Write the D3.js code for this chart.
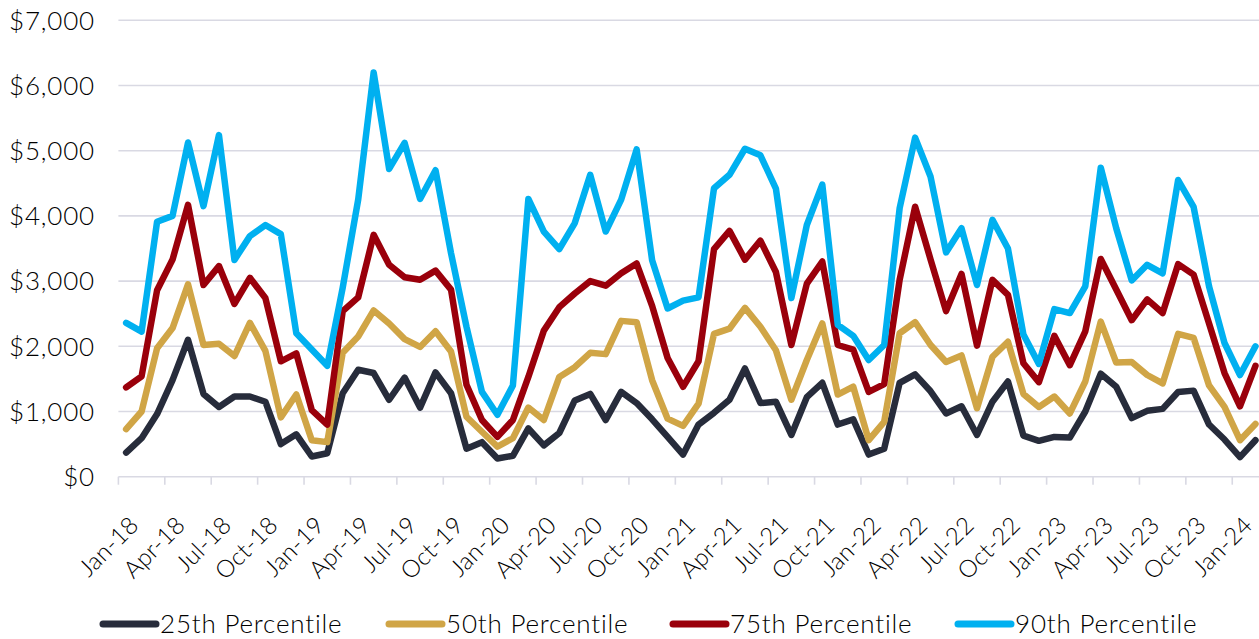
<!DOCTYPE html>
<html>
<head>
<meta charset="utf-8">
<script src="https://cdn.jsdelivr.net/npm/d3@7"></script>
<style>
  html, body { margin: 0; padding: 0; background: #fff; }
  svg { display: block; }
  text { font-family: Lato, "Open Sans", sans-serif; font-weight: 300; fill: #000; }
</style>
</head>
<body>
<svg id="chart" width="1259" height="639"></svg>
<script>
const categories = [
  "Jan-18","Feb-18","Mar-18","Apr-18","May-18","Jun-18","Jul-18","Aug-18","Sep-18","Oct-18","Nov-18","Dec-18",
  "Jan-19","Feb-19","Mar-19","Apr-19","May-19","Jun-19","Jul-19","Aug-19","Sep-19","Oct-19","Nov-19","Dec-19",
  "Jan-20","Feb-20","Mar-20","Apr-20","May-20","Jun-20","Jul-20","Aug-20","Sep-20","Oct-20","Nov-20","Dec-20",
  "Jan-21","Feb-21","Mar-21","Apr-21","May-21","Jun-21","Jul-21","Aug-21","Sep-21","Oct-21","Nov-21","Dec-21",
  "Jan-22","Feb-22","Mar-22","Apr-22","May-22","Jun-22","Jul-22","Aug-22","Sep-22","Oct-22","Nov-22","Dec-22",
  "Jan-23","Feb-23","Mar-23","Apr-23","May-23","Jun-23","Jul-23","Aug-23","Sep-23","Oct-23","Nov-23","Dec-23",
  "Jan-24","Feb-24"
];

const p25 = [370,590,960,1480,2100,1270,1070,1230,1230,1150,500,650,
  310,360,1280,1640,1590,1180,1520,1060,1600,1280,430,530,
  280,320,740,480,670,1170,1270,870,1300,1130,880,610,
  340,800,980,1180,1660,1130,1150,640,1220,1440,800,880,
  340,430,1440,1570,1310,970,1080,640,1150,1460,630,550,
  610,600,1000,1580,1380,900,1010,1040,1300,1320,800,570,
  300,560];

const p50 = [730,1000,1970,2280,2950,2020,2040,1850,2360,1930,910,1260,
  560,530,1900,2150,2550,2350,2110,1990,2230,1920,920,690,
  460,590,1060,870,1530,1680,1900,1880,2390,2370,1480,890,
  780,1120,2190,2270,2590,2300,1940,1180,1790,2350,1260,1380,
  560,840,2200,2370,2020,1760,1860,1050,1840,2070,1270,1070,
  1230,970,1460,2380,1750,1760,1560,1430,2190,2130,1400,1070,
  560,810];

const p75 = [1370,1540,2860,3330,4170,2940,3230,2650,3050,2740,1770,1890,
  1020,800,2540,2750,3710,3250,3060,3020,3160,2870,1410,870,
  610,870,1530,2240,2600,2810,3000,2930,3120,3270,2620,1820,
  1380,1770,3490,3770,3330,3620,3140,2020,2960,3300,2020,1950,
  1300,1420,3020,4140,3330,2540,3110,2010,3020,2790,1740,1450,
  2160,1710,2230,3340,2870,2400,2720,2510,3260,3100,2350,1590,
  1080,1700];

const p90 = [2360,2225,3910,4000,5125,4150,5240,3325,3690,3860,3720,2200,
  1950,1700,2900,4250,6200,4720,5120,4260,4700,3430,2300,1300,
  950,1400,4260,3760,3490,3890,4630,3760,4250,5020,3320,2580,
  2700,2750,4425,4630,5030,4930,4420,2740,3860,4480,2330,2160,
  1790,2020,4120,5200,4600,3440,3810,2940,3940,3500,2180,1730,
  2570,2510,2920,4740,3810,3010,3250,3120,4550,4140,2920,2050,
  1560,2000];

const yTicks = [0,1000,2000,3000,4000,5000,6000,7000];
const seriesNames = ["25th Percentile","50th Percentile","75th Percentile","90th Percentile"];
const seriesColors = ["#272c3b","#d0a546","#9a000b","#00b0f0"];
const seriesValues = [p25, p50, p75, p90];

const svg = d3.select("#chart");
const pLeft = 118.4, pRight = 1263.2, pTop = 20.3, pBottom = 476.7;

const x = d3.scaleBand().domain(categories).range([pLeft, pRight]).padding(0);
const y = d3.scaleLinear().domain([0, 7000]).range([pBottom, pTop]);
const cx = d => x(d) + x.bandwidth() / 2;

// gridlines
svg.append("g").selectAll("line").data(yTicks).join("line")
  .attr("x1", pLeft).attr("x2", pRight)
  .attr("y1", d => y(d)).attr("y2", d => y(d))
  .attr("stroke", "#d9d9e3").attr("stroke-width", 1.6);

// y labels
const fmt = d3.format("$,");
svg.append("g").selectAll("text").data(yTicks).join("text")
  .attr("x", 95).attr("y", d => y(d))
  .attr("dy", "0.36em")
  .attr("text-anchor", "end")
  .style("font-size", "26px")
  .style("letter-spacing", "0.8px")
  .text(d => fmt(d));

// x ticks at band boundaries, every 3 months
const tickCats = categories.filter((c, i) => i % 3 === 0);
svg.append("g").selectAll("line").data(tickCats).join("line")
  .attr("x1", d => x(d)).attr("x2", d => x(d))
  .attr("y1", pBottom).attr("y2", pBottom + 8)
  .attr("stroke", "#d9d9e3").attr("stroke-width", 1.6);

// x labels
svg.append("g").selectAll("text").data(tickCats).join("text")
  .attr("transform", d => `translate(${cx(d) + 8},${pBottom + 44}) rotate(-45)`)
  .attr("text-anchor", "end")
  .attr("dy", "0.35em")
  .style("font-size", "24px")
  .style("letter-spacing", "0.3px")
  .text(d => d);

// lines
const line = d3.line().x((d, i) => cx(categories[i])).y(d => y(d));
svg.append("g").selectAll("path").data(seriesValues).join("path")
  .attr("d", d => line(d))
  .attr("fill", "none")
  .attr("stroke", (d, i) => seriesColors[i])
  .attr("stroke-width", 6.5)
  .attr("stroke-linejoin", "round")
  .attr("stroke-linecap", "round");

// legend
const legendX = [100, 386, 670, 955];
const lg = svg.append("g").selectAll("g").data(seriesNames).join("g")
  .attr("transform", (d, i) => `translate(${legendX[i]},624)`);
lg.append("line").attr("x1", 3).attr("x2", 56).attr("y1", 0).attr("y2", 0)
  .attr("stroke", (d, i) => seriesColors[i]).attr("stroke-width", 7)
  .attr("stroke-linecap", "round");
lg.append("text").attr("x", 60).attr("y", 0).attr("dy", "0.36em")
  .style("font-size", "26px")
  .style("letter-spacing", "0.8px")
  .text(d => d);
</script>
</body>
</html>
